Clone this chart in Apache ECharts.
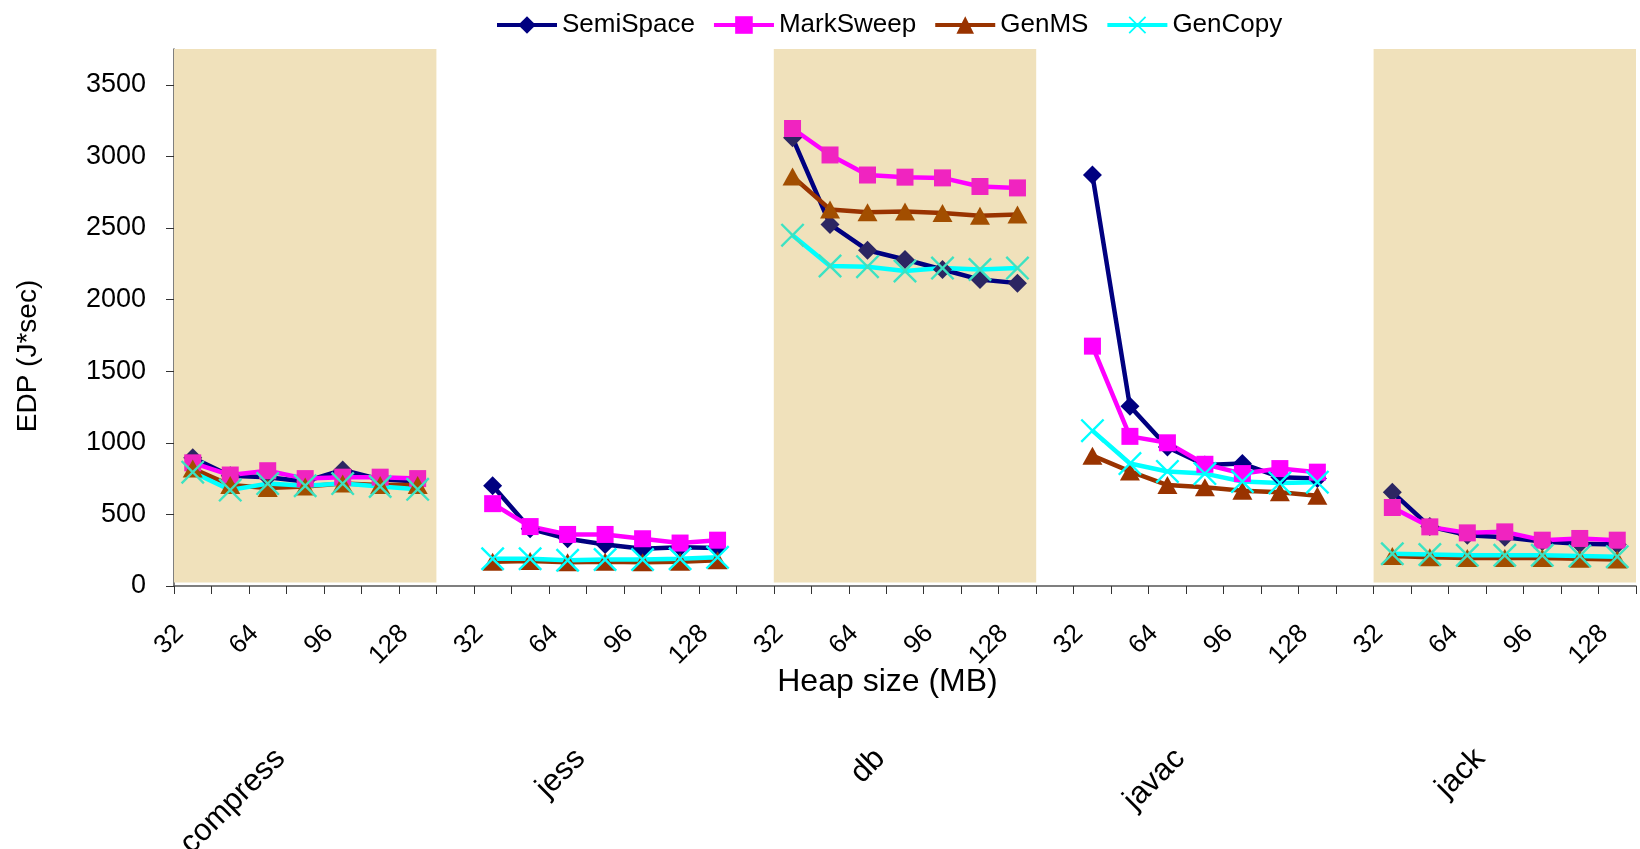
<!DOCTYPE html>
<html><head><meta charset="utf-8">
<script src="https://cdn.jsdelivr.net/npm/echarts@6/dist/echarts.min.js"></script>
<style>html,body{margin:0;padding:0;background:#fff}#c{width:1640px;height:849px}</style>
</head><body><div id="c"></div>
<script>
// ---- data ----
const benchmarks = ['compress', 'jess', 'db', 'javac', 'jack'];
const heapSizes = ['32', '48', '64', '80', '96', '112', '128'];
const shadedBenchmarks = ['compress', 'db', 'jack'];
const yTicks = [0, 500, 1000, 1500, 2000, 2500, 3000, 3500];
const seriesNames = ['SemiSpace', 'MarkSweep', 'GenMS', 'GenCopy'];

// one row per benchmark (compress, jess, db, javac, jack), one value per heap size
const semiSpace = [
  [895, 770, 760, 730, 810, 745, 730],
  [700, 400, 330, 290, 260, 270, 265],
  [3130, 2525, 2345, 2280, 2210, 2140, 2115],
  [2870, 1255, 970, 845, 855, 760, 750],
  [655, 415, 355, 340, 310, 295, 290]
];
const markSweep = [
  [860, 775, 805, 750, 760, 760, 750],
  [575, 415, 360, 360, 330, 300, 320],
  [3195, 3010, 2870, 2855, 2850, 2790, 2780],
  [1675, 1045, 1000, 850, 785, 820, 795],
  [548, 413, 371, 378, 320, 332, 320]
];
const genMS = [
  [820, 705, 685, 695, 715, 705, 705],
  [170, 175, 165, 170, 165, 170, 180],
  [2860, 2630, 2610, 2615, 2605, 2585, 2595],
  [910, 800, 705, 690, 665, 655, 630],
  [210, 200, 195, 195, 195, 190, 185]
];
const genCopy = [
  [795, 670, 715, 700, 715, 695, 675],
  [190, 190, 180, 185, 185, 190, 200],
  [2450, 2235, 2230, 2200, 2220, 2210, 2220],
  [1085, 855, 800, 785, 730, 720, 725],
  [225, 220, 215, 215, 215, 210, 205]
];
const yMax = 3750;
const shadeBottom = 25;

// ---- build ----
const categories = [];
const groupLabels = [];
const groupStart = [];
benchmarks.forEach((b, gi) => {
  groupStart.push(categories.length);
  heapSizes.forEach((h, hi) => { categories.push(h); groupLabels.push(hi === 3 ? b : ''); });
  if (gi < benchmarks.length - 1) { categories.push(''); groupLabels.push(''); }
});
function flatten(groups) {
  const out = [];
  groups.forEach((g, gi) => { out.push(...g); if (gi < groups.length - 1) out.push(null); });
  return out;
}
const shadeData = shadedBenchmarks.map(b => {
  const s = groupStart[benchmarks.indexOf(b)];
  return [s, s + heapSizes.length - 1, shadeBottom, yMax];
});

const FONT = 'Liberation Sans, Arial, sans-serif';
const xSym = 'path://M0,0.7L0.7,0L5,4.3L9.3,0L10,0.7L5.7,5L10,9.3L9.3,10L5,5.7L0.7,10L0,9.3L4.3,5Z';
const styles = [
  { color: '#000080', shade: '#2C2662', symbol: 'diamond', size: 19 },
  { color: '#FF00FF', shade: '#F024C0', symbol: 'rect', size: 17 },
  { color: '#993300', shade: '#A24E00', symbol: 'triangle', size: [20, 18] },
  { color: '#00FFFF', shade: '#3CE2C2', symbol: xSym, size: 24 }
];
const allData = [semiSpace, markSweep, genMS, genCopy];

const lineSeries = seriesNames.map((name, i) => ({
  name: name,
  type: 'line',
  data: flatten(allData[i]),
  symbol: styles[i].symbol,
  symbolSize: styles[i].size,
  showAllSymbol: true,
  connectNulls: false,
  z: 3,
  itemStyle: { color: styles[i].color },
  lineStyle: { width: 4.5, color: styles[i].color }
}));

const visualMaps = seriesNames.map((name, i) => ({
  type: 'piecewise', show: false, seriesIndex: i, dimension: 0,
  pieces: benchmarks.map((b, gi) => ({
    gte: groupStart[gi] - 0.5, lte: groupStart[gi] + heapSizes.length - 0.5,
    color: shadedBenchmarks.indexOf(b) >= 0 ? styles[i].shade : styles[i].color
  })),
  outOfRange: { color: styles[i].color }
}));

const chart = echarts.init(document.getElementById('c'), null, { renderer: 'canvas' });
chart.setOption({
  animation: false,
  backgroundColor: '#ffffff',
  textStyle: { fontFamily: FONT, color: '#000' },
  legend: {
    data: seriesNames,
    left: 490, top: 7,
    itemWidth: 60, itemHeight: 22, itemGap: 17,
    lineStyle: { width: 4 },
    textStyle: { fontSize: 26, fontFamily: FONT, color: '#000' }
  },
  visualMap: visualMaps,
  grid: { left: 174, right: 4, top: 49, bottom: 263, containLabel: false, outerBoundsMode: 'none' },
  xAxis: [
    {
      type: 'category', data: categories, boundaryGap: true, position: 'bottom',
      axisLine: { show: true, lineStyle: { color: '#555', width: 1.5 } },
      axisTick: { show: true, interval: 0, length: 8, lineStyle: { color: '#333' } },
      axisLabel: { interval: 1, rotate: 45, margin: 30, fontSize: 26, color: '#000', fontFamily: FONT, padding: [0, 19, 0, 0] },
      splitLine: { show: false },
      name: 'Heap size (MB)', nameLocation: 'middle', nameGap: 80, nameMoveOverlap: false,
      nameTextStyle: { fontSize: 32, color: '#000', fontFamily: FONT, padding: [0, 35, 0, 0] }
    },
    {
      type: 'category', data: groupLabels, boundaryGap: true, position: 'bottom',
      axisLine: { show: false }, axisTick: { show: false }, splitLine: { show: false },
      axisLabel: { interval: 0, rotate: 45, margin: 143, fontSize: 31, color: '#000', fontFamily: FONT, padding: [0, 35, 0, 0] }
    }
  ],
  yAxis: {
    type: 'value', min: 0, max: yMax, interval: 500,
    name: 'EDP (J*sec)', nameLocation: 'middle', nameGap: 132, nameMoveOverlap: false,
    nameTextStyle: { fontSize: 28, color: '#000', fontFamily: FONT, padding: [0, 77, 0, 0] },
    axisLine: { show: true, lineStyle: { color: '#555', width: 1.5 } },
    axisTick: { show: true, length: 8, customValues: yTicks, lineStyle: { color: '#333' } },
    axisLabel: { customValues: yTicks, fontSize: 27, margin: 28, color: '#000', fontFamily: FONT,
      formatter: function (v) { return String(v); } },
    splitLine: { show: false }
  },
  series: lineSeries.concat([{
    type: 'custom',
    name: 'shade',
    xAxisIndex: 0, yAxisIndex: 0,
    z: 1, silent: true,
    data: shadeData,
    encode: { x: [0, 1], y: [2, 3] },
    renderItem: function (params, api) {
      const w = api.size([1, 0])[0];
      const p0 = api.coord([api.value(0), api.value(3)]);
      const p1 = api.coord([api.value(1), api.value(2)]);
      const x0 = p0[0] - w / 2, x1 = p1[0] + w / 2;
      return {
        type: 'rect',
        shape: { x: x0, y: p0[1], width: x1 - x0, height: p1[1] - p0[1] },
        style: { fill: '#F0E1BB' }
      };
    }
  }])
});
</script></body></html>
